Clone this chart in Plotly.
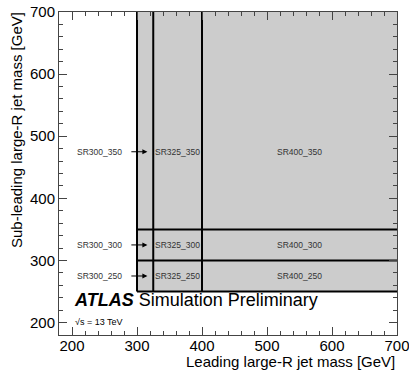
import plotly.graph_objects as go

# Data
x_cuts = [300, 325, 400]          # leading-jet mass thresholds [GeV]
y_cuts = [250, 300, 350]          # sub-leading-jet mass thresholds [GeV]
x_max = 700
y_max = 700
x_range = [180, 700]
y_range = [180, 700]
row_label_y = [275, 325, 475]     # label heights for the 250/300/350 rows
left_label_x = 243                # x of SR300_* labels (outside region)
arrow_tail_x = 289
arrow_head_x = 316
x_title = "Leading large-R jet mass [GeV]"
y_title = "Sub-leading large-R jet mass [GeV]"

FONT = "Liberation Sans, Arial, Helvetica, sans-serif"

fig = go.Figure()

# shaded region
fig.add_trace(go.Scatter(
    x=[x_cuts[0], x_max, x_max, x_cuts[0], x_cuts[0]],
    y=[y_cuts[0], y_cuts[0], y_max, y_max, y_cuts[0]],
    fill="toself", fillcolor="#cccccc", mode="lines",
    line=dict(width=0), hoverinfo="skip", showlegend=False))

# vertical cut lines
for xc in x_cuts:
    fig.add_trace(go.Scatter(x=[xc, xc], y=[y_cuts[0], y_max], mode="lines",
                             line=dict(color="black", width=2), showlegend=False))
# horizontal cut lines
for yc in y_cuts:
    fig.add_trace(go.Scatter(x=[x_cuts[0], x_max], y=[yc, yc], mode="lines",
                             line=dict(color="black", width=2), showlegend=False))

col_edges = x_cuts + [x_max]
annots = []
for yc, ly in zip(y_cuts, row_label_y):
    annots.append(dict(x=left_label_x, y=ly, text=f"SR{x_cuts[0]}_{yc}", showarrow=False,
                       font=dict(size=8.5, color="#333333", family=FONT)))
    annots.append(dict(x=arrow_head_x, y=ly, ax=arrow_tail_x, ay=ly, axref="x", ayref="y",
                       xref="x", yref="y", text="", showarrow=True, arrowhead=2,
                       arrowsize=1, arrowwidth=1, arrowcolor="black"))
    for i in range(1, len(x_cuts)):
        cx = (col_edges[i] + col_edges[i + 1]) / 2
        annots.append(dict(x=cx, y=ly, text=f"SR{x_cuts[i]}_{yc}", showarrow=False,
                           font=dict(size=8.5, color="#333333", family=FONT)))

# ATLAS label
annots.append(dict(xref="paper", yref="paper", x=0.038, y=0.108, xanchor="left", yanchor="middle",
                   text="<b><i>ATLAS</i></b> Simulation Preliminary", showarrow=False,
                   font=dict(size=18, color="black", family=FONT)))
annots.append(dict(xref="paper", yref="paper", x=0.04, y=0.04, xanchor="left", yanchor="middle",
                   text="√s = 13 TeV", showarrow=False,
                   font=dict(size=9, color="black", family=FONT)))
# axis titles
annots.append(dict(xref="paper", yref="paper", x=1.0, y=-0.083, xanchor="right", yanchor="middle",
                   text=x_title, showarrow=False,
                   font=dict(size=15, color="black", family=FONT)))
annots.append(dict(xref="paper", yref="paper", x=-0.124, y=0.635, xanchor="center", yanchor="middle",
                   text=y_title, showarrow=False, textangle=-90,
                   font=dict(size=15, color="black", family=FONT)))

axis_common = dict(showgrid=False, zeroline=False, showline=True, linecolor="#444444",
                   linewidth=1, mirror="allticks", ticks="inside", ticklen=8,
                   tickcolor="#444444", dtick=100, automargin=False,
                   ticklabeloverflow="allow",
                   tickfont=dict(size=15, color="black", family=FONT),
                   minor=dict(ticks="inside", ticklen=4, dtick=20, tickcolor="#444444"))

fig.update_layout(
    width=409, height=375,
    margin=dict(l=59, r=12, t=12, b=40),
    plot_bgcolor="white", paper_bgcolor="white",
    xaxis=dict(range=x_range, tick0=200, ticklabelstandoff=-3, **axis_common),
    yaxis=dict(range=y_range, tick0=200, **axis_common),
    annotations=annots,
    showlegend=False,
)

fig.write_html("out.html")
